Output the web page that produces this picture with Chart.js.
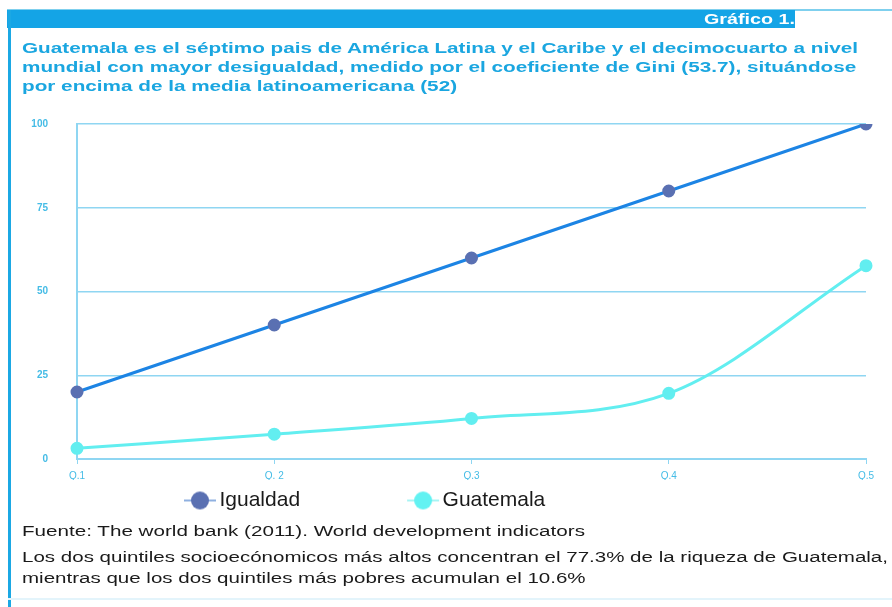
<!DOCTYPE html>
<html lang="es">
<head>
<meta charset="UTF-8">
<title>Gráfico 1</title>
<script src="https://cdn.jsdelivr.net/npm/chart.js"></script>
<style>
  body { margin: 0; background: #fff; font-family: "Liberation Sans", Arial, sans-serif; }
  .page { position: relative; width: 892px; height: 607px; overflow: hidden; }
  .topline { position: absolute; left: 7px; top: 9px; width: 885px; height: 2px; background: #7fd0ee; }
  .header { position: absolute; left: 7px; top: 10px; width: 788px; height: 18px; background: #14a4e6; }
  .header span { position: absolute; left: 697px; top: 1px; color: #fff; font-weight: bold; font-size: 14px; white-space: nowrap; }
  .leftline { position: absolute; left: 8px; top: 10px; width: 3px; height: 597px; background: #1ba8e4; }
  .bottomline { position: absolute; left: 8px; top: 598px; width: 884px; height: 2px; background: #e3f4fb; }
  .title { position: absolute; left: 22px; top: 38px; color: #1aa6e0; font-weight: bold; font-size: 15px; line-height: 19px; white-space: nowrap; }
  .source { position: absolute; left: 22px; top: 522px; color: #1a1a1a; font-size: 15.5px; white-space: nowrap; }
  .note { position: absolute; left: 22px; top: 546px; color: #1a1a1a; font-size: 15.5px; line-height: 21px; white-space: nowrap; }
  .fit { transform-origin: 0 0; }
  #chart { position: absolute; left: 0; top: 0; }
</style>
</head>
<body>
<div class="page">
  <canvas id="chart" width="892" height="607"></canvas>
  <div class="topline"></div>
  <div class="header"><span class="fit" data-w="91">Gráfico 1.</span></div>
  <div class="leftline"></div>
  <div class="bottomline"></div>
  <div class="title fit" data-w="836">Guatemala es el séptimo pais de América Latina y el Caribe y el decimocuarto a nivel<br>mundial con mayor desigualdad, medido por el coeficiente de Gini (53.7), situándose<br>por encima de la media latinoamericana (52)</div>
  <div class="source fit" data-w="563">Fuente: The world bank (2011). World development indicators</div>
  <div class="note fit" data-w="866">Los dos quintiles socioecónomicos más altos concentran el 77.3% de la riqueza de Guatemala,<br>mientras que los dos quintiles más pobres acumulan el 10.6%</div>
</div>
<script>
  const quintiles = ["Q.1", "Q. 2", "Q.3", "Q.4", "Q.5"];
  const igualdad = [20, 40, 60, 80, 100];
  const guatemala = [3.2, 7.4, 12.1, 19.6, 57.7];
  const yTicks = [0, 25, 50, 75, 100];

  // the source picture is stretched sideways, so widen text blocks to the measured widths
  document.querySelectorAll('.fit').forEach(el => {
    const w = el.getBoundingClientRect().width;
    el.style.transform = 'scaleX(' + (el.dataset.w / w) + ')';
  });

  // legend marker: short line with a circle, drawn off-centre so it sits right of its box
  function legendMarker(lineColor, dotColor) {
    const c = document.createElement('canvas');
    c.width = 140; c.height = 22;
    const g = c.getContext('2d');
    const cx = 122, cy = 11;
    g.strokeStyle = lineColor;
    g.lineWidth = 2;
    g.beginPath(); g.moveTo(cx - 16, cy); g.lineTo(cx + 16, cy); g.stroke();
    g.fillStyle = dotColor;
    g.beginPath(); g.arc(cx, cy, 9, 0, Math.PI * 2); g.fill();
    return c;
  }
  const markers = [legendMarker('#8fb0e0', '#5a70b2'), legendMarker('#a8f4f4', '#62f2f2')];

  const tickColor = '#45bce6';
  const gridColor = '#8fd6f2';

  new Chart(document.getElementById('chart'), {
    type: 'line',
    data: {
      labels: quintiles,
      datasets: [
        {
          label: 'Igualdad',
          data: igualdad,
          borderColor: '#1c84e4',
          backgroundColor: '#5a70b2',
          pointBackgroundColor: '#5a70b2',
          pointBorderColor: '#5a70b2',
          pointRadius: 5,
          borderWidth: 3,
          tension: 0
        },
        {
          label: 'Guatemala',
          data: guatemala,
          borderColor: '#62eef0',
          backgroundColor: '#62eef0',
          pointBackgroundColor: '#62eef0',
          pointBorderColor: '#62eef0',
          pointRadius: 5,
          borderWidth: 3,
          cubicInterpolationMode: 'monotone'
        }
      ]
    },
    options: {
      responsive: false,
      animation: false,
      layout: { padding: { left: 20, right: 26, top: 124, bottom: 86 } },
      elements: { point: { pointStyle: 'circle' } },
      scales: {
        x: {
          offset: false,
          afterFit: (axis) => { axis.height -= 8; },
          grid: { display: true, drawOnChartArea: false, color: gridColor, tickLength: 5 },
          border: { display: true, color: gridColor, width: 2 },
          ticks: { color: tickColor, font: { family: 'Liberation Sans', size: 10 }, padding: 6, maxRotation: 0 }
        },
        y: {
          min: 0, max: 100,
          afterFit: (axis) => { axis.width = 57; },
          afterBuildTicks: (axis) => { axis.ticks = yTicks.map(v => ({ value: v })); },
          grid: { color: gridColor, lineWidth: 1.5, drawTicks: false },
          border: { display: true, color: gridColor, width: 2 },
          ticks: { color: tickColor, font: { family: 'Liberation Sans', size: 10, weight: 'bold' }, padding: 29 }
        }
      },
      plugins: {
        tooltip: { enabled: false },
        legend: {
          position: 'bottom',
          align: 'start',
          fullSize: false,
          labels: {
            usePointStyle: true,
            pointStyleWidth: 122,
            padding: 10,
            color: '#1a1a1a',
            font: { family: 'Liberation Sans', size: 21 },
            generateLabels: (chart) => {
              const items = Chart.defaults.plugins.legend.labels.generateLabels(chart);
              items.forEach(it => { it.pointStyle = markers[it.datasetIndex]; });
              return items;
            }
          }
        }
      }
    }
  });
</script>
</body>
</html>
